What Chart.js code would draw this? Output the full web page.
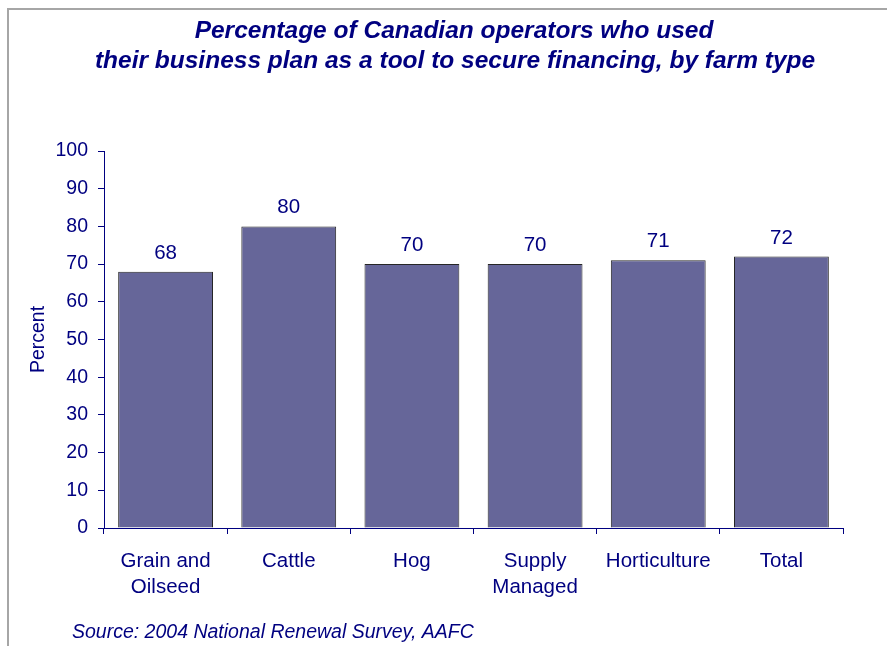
<!DOCTYPE html>
<html>
<head>
<meta charset="utf-8">
<title>Business plan use by farm type</title>
<script src="https://cdn.jsdelivr.net/npm/chart.js@4"></script>
<style>
  html, body { margin: 0; padding: 0; background: #fff; }
  #wrap { position: relative; width: 887px; height: 646px; }
</style>
</head>
<body>
<div id="wrap"><canvas id="chart" width="887" height="646"></canvas></div>
<script>
const farmTypes = [["Grain and", "Oilseed"], "Cattle", "Hog", ["Supply", "Managed"], "Horticulture", "Total"];
const percentUsed = [68, 80, 70, 70, 71, 72];
const yTicks = [0, 10, 20, 30, 40, 50, 60, 70, 80, 90, 100];

const titleLines = [
  "Percentage of Canadian operators who used",
  "their business plan as a tool to secure financing, by farm type",
];
const sourceNote = "Source: 2004 National Renewal Survey, AAFC";

const NAVY = "#000080";
const FONT = "Arial, 'Liberation Sans', sans-serif";

// frame, title, axis title, source line and value labels
const decorations = {
  id: "decorations",
  beforeDraw(chart) {
    const ctx = chart.ctx;
    ctx.save();
    ctx.fillStyle = "#fff";
    ctx.fillRect(0, 0, chart.width, chart.height);
    ctx.strokeStyle = "#a6a6a6";
    ctx.lineWidth = 2;
    ctx.strokeRect(8, 9, chart.width + 20, chart.height + 20);
    ctx.restore();
  },
  afterDraw(chart) {
    const ctx = chart.ctx;
    const area = chart.chartArea;
    ctx.save();
    ctx.fillStyle = NAVY;
    ctx.textAlign = "center";
    ctx.textBaseline = "alphabetic";
    ctx.font = `italic bold 24.5px ${FONT}`;
    ctx.fillText(titleLines[0], 454, 38);
    ctx.fillText(titleLines[1], 455, 68);

    ctx.font = `italic 19.5px ${FONT}`;
    ctx.textAlign = "left";
    ctx.fillText(sourceNote, 72, 638);

    ctx.translate(39, (area.top + area.bottom) / 2);
    ctx.rotate(-Math.PI / 2);
    ctx.textAlign = "center";
    ctx.textBaseline = "middle";
    ctx.font = `19.5px ${FONT}`;
    ctx.fillText("Percent", 0, 0);
    ctx.restore();
  },
  afterDatasetsDraw(chart) {
    const ctx = chart.ctx;
    const meta = chart.getDatasetMeta(0);
    ctx.save();
    ctx.fillStyle = NAVY;
    ctx.font = `20.5px ${FONT}`;
    ctx.textAlign = "center";
    ctx.textBaseline = "alphabetic";
    meta.data.forEach((bar, i) => {
      ctx.fillText(String(percentUsed[i]), bar.x, bar.y - 13);
    });
    ctx.restore();
  },
};

new Chart(document.getElementById("chart"), {
  type: "bar",
  data: {
    labels: farmTypes,
    datasets: [{
      data: percentUsed,
      backgroundColor: "#666699",
      borderColor: "#262626",
      borderWidth: 1,
      barPercentage: 0.77,
      categoryPercentage: 1,
    }],
  },
  options: {
    responsive: false,
    animation: false,
    devicePixelRatio: 1,
    layout: { padding: { top: 151, right: 44, bottom: 0, left: 0 } },
    plugins: {
      legend: { display: false },
      title: { display: false },
      tooltip: { enabled: false },
    },
    scales: {
      x: {
        afterFit: (scale) => { scale.height = 118; },
        grid: {
          offset: true,
          drawOnChartArea: false,
          drawTicks: true,
          tickLength: 6,
          color: NAVY,
        },
        border: { color: NAVY, width: 1 },
        ticks: {
          color: NAVY,
          padding: 14,
          maxRotation: 0,
          autoSkip: false,
          font: { family: FONT, size: 20.5, lineHeight: 1.27 },
        },
      },
      y: {
        min: yTicks[0],
        max: yTicks[yTicks.length - 1],
        afterFit: (scale) => { scale.width = 104; },
        afterBuildTicks: (scale) => { scale.ticks = yTicks.map((v) => ({ value: v })); },
        grid: {
          drawOnChartArea: false,
          drawTicks: true,
          tickLength: 6,
          color: NAVY,
        },
        border: { color: NAVY, width: 1 },
        ticks: {
          color: NAVY,
          padding: 10,
          font: { family: FONT, size: 19.5 },
        },
      },
    },
  },
  plugins: [decorations],
});
</script>
</body>
</html>
